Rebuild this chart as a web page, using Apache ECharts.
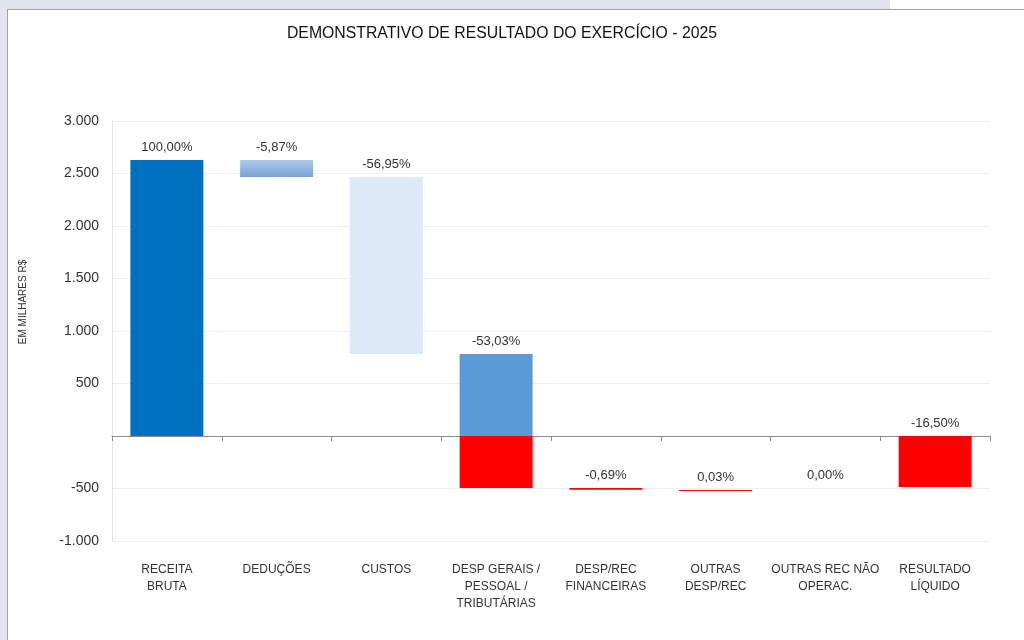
<!DOCTYPE html>
<html>
<head>
<meta charset="utf-8">
<script src="https://cdn.jsdelivr.net/npm/echarts@6/dist/echarts.min.js"></script>
<style>
  html, body { margin: 0; padding: 0; background: #fff; }
  #strip-top { position: absolute; left: 0; top: 0; width: 890px; height: 9px; background: #e3e3ee; }
  #strip-left { position: absolute; left: 0; top: 0; width: 7px; height: 640px; background: #e3e3ee; }
  #frame { position: absolute; left: 7px; top: 9px; width: 1017px; height: 631px;
           border-top: 1px solid #a3a3a3; border-left: 1px solid #a3a3a3; box-sizing: border-box; }
  #chart { position: absolute; left: 0; top: 0; width: 1024px; height: 640px; }
</style>
</head>
<body>
<div id="strip-top"></div>
<div id="strip-left"></div>
<div id="frame"></div>
<div id="chart"></div>
<script>
// categorias do DRE
const categorias = [
  'RECEITA\nBRUTA',
  'DEDUÇÕES',
  'CUSTOS',
  'DESP GERAIS /\nPESSOAL /\nTRIBUTÁRIAS',
  'DESP/REC\nFINANCEIRAS',
  'OUTRAS\nDESP/REC',
  'OUTRAS REC NÃO\nOPERAC.',
  'RESULTADO\nLÍQUIDO'
];
// base e topo de cada degrau (em milhares R$)
const inicio = [0, 2629, 2467, 781, -495, -514, -495, 0];
const fim = [2629, 2467, 781, -495, -511, -523, -495, -486];
// rótulos percentuais
const percentuais = ['100,00%', '-5,87%', '-56,95%', '-53,03%', '-0,69%', '0,03%', '0,00%', '-16,50%'];

const fonte = '"Liberation Sans", Arial, sans-serif';

// cores da parte positiva de cada barra (parte negativa sempre vermelha)
const corPositiva = [
  '#0070c0',
  new echarts.graphic.LinearGradient(0, 0, 0, 1, [
    { offset: 0, color: '#abc9ec' },
    { offset: 1, color: '#7ba3d3' }
  ]),
  '#dde9f6',
  '#5b9bd5',
  '#ff0000', '#ff0000', '#ff0000', '#ff0000'
];

const dados = categorias.map((c, i) => [i, Math.min(inicio[i], fim[i]), Math.max(inicio[i], fim[i])]);

const fmtMilhar = v => {
  if (v === 0) return '';
  const s = String(Math.abs(v)).replace(/\B(?=(\d{3})+(?!\d))/g, '.');
  return (v < 0 ? '-' : '') + s;
};

const chart = echarts.init(document.getElementById('chart'));

chart.setOption({
  backgroundColor: 'transparent',
  animation: false,
  title: {
    text: 'DEMONSTRATIVO DE RESULTADO DO EXERCÍCIO - 2025',
    left: 497,
    textAlign: 'center',
    top: 21,
    textStyle: { fontFamily: fonte, fontSize: 15.8, fontWeight: 'normal', color: '#111' }
  },
  graphic: [{
    type: 'text',
    x: 23,
    y: 302,
    rotation: Math.PI / 2,
    style: {
      text: 'EM MILHARES R$',
      fontFamily: fonte,
      fontSize: 10,
      fill: '#333',
      align: 'center',
      verticalAlign: 'middle'
    }
  }],
  grid: { left: 112, right: 34, top: 121, bottom: 99 },
  xAxis: [
    {
      type: 'category',
      data: categorias,
      axisLine: { onZero: true, lineStyle: { color: '#8c8c8c', width: 1 } },
      axisTick: { show: true, interval: 0, length: 5, lineStyle: { color: '#8c8c8c' } },
      axisLabel: { show: false },
      splitLine: { show: false }
    },
    {
      type: 'category',
      data: categorias,
      position: 'bottom',
      axisLine: { show: false, onZero: false },
      axisTick: { show: false },
      axisLabel: {
        interval: 0,
        margin: 20,
        fontFamily: fonte,
        fontSize: 12,
        lineHeight: 17,
        color: '#333'
      }
    }
  ],
  yAxis: {
    type: 'value',
    min: -1000,
    max: 3000,
    interval: 500,
    axisLine: { show: true, lineStyle: { color: '#e3e3e3' } },
    axisTick: { show: false },
    splitLine: { lineStyle: { color: '#efefef' } },
    axisLabel: {
      margin: 13,
      fontFamily: fonte,
      fontSize: 14,
      color: '#333',
      formatter: fmtMilhar
    }
  },
  series: [{
    type: 'custom',
    xAxisIndex: 0,
    data: dados,
    renderItem: (params, api) => {
      const i = api.value(0);
      const lo = api.value(1);
      const hi = api.value(2);
      const largura = api.size([1, 0])[0] * 0.665;
      const cx = api.coord([i, 0])[0];
      const x = cx - largura / 2;
      const filhos = [];
      const ret = (a, b, cor) => {
        const y1 = api.coord([i, b])[1];
        const y2 = api.coord([i, a])[1];
        if (y2 - y1 <= 0) return;
        filhos.push({
          type: 'rect',
          shape: { x: x, y: y1, width: largura, height: y2 - y1 },
          style: { fill: cor }
        });
      };
      if (hi > 0) ret(Math.max(lo, 0), hi, corPositiva[i]);
      if (lo < 0) ret(lo, Math.min(hi, 0), '#ff0000');
      const topo = api.coord([i, hi])[1];
      filhos.push({
        type: 'text',
        style: {
          text: percentuais[i],
          x: cx,
          y: topo - 6,
          align: 'center',
          verticalAlign: 'bottom',
          fontFamily: fonte,
          fontSize: 13,
          fill: '#333'
        }
      });
      return { type: 'group', children: filhos };
    }
  }]
});
</script>
</body>
</html>
